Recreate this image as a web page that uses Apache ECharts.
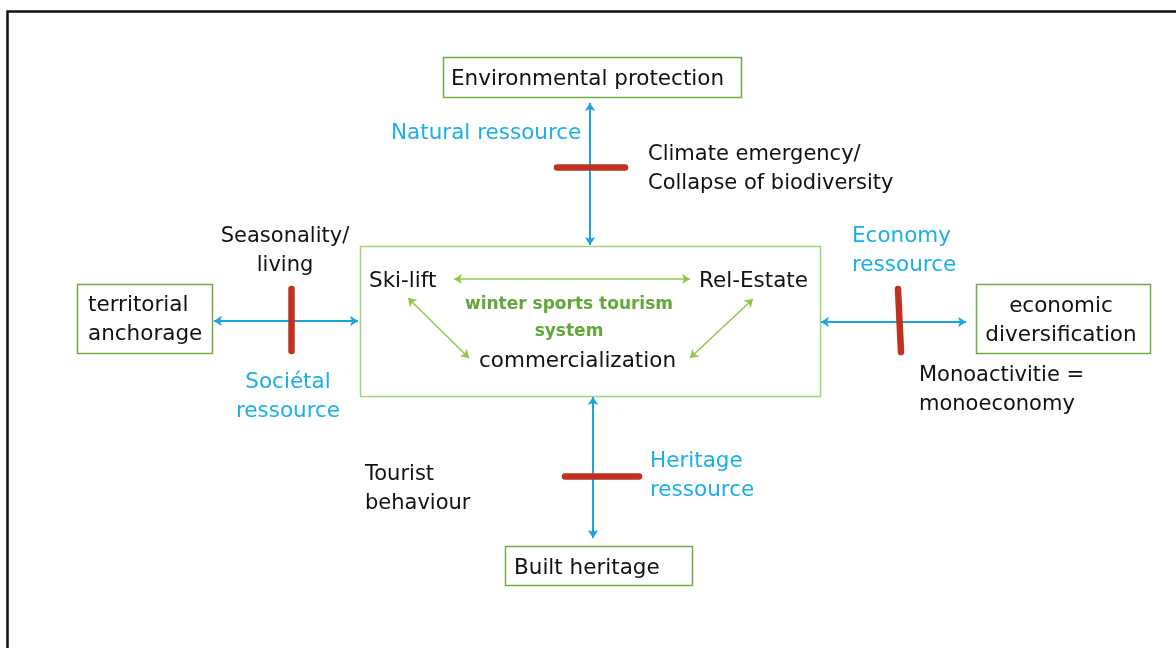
<!DOCTYPE html>
<html>
<head>
<meta charset="utf-8">
<script src="https://cdn.jsdelivr.net/npm/echarts@6/dist/echarts.min.js"></script>
<style>html,body{margin:0;padding:0;background:#fff}#c{width:1176px;height:648px}</style>
</head>
<body>
<div id="c"></div>
<script>
// ---- content ----
const boxNames = ['Environmental protection', 'winter sports tourism system', 'territorial anchorage', 'economic diversification', 'Built heritage'];
const nodeTexts = ['Environmental protection', 'territorial\nanchorage', 'economic\ndiversification', 'Built heritage', 'Ski-lift', 'Rel-Estate', 'commercialization'];
const systemText = ['winter sports tourism\nsystem'];
const tensionTexts = ['Climate emergency/\nCollapse of biodiversity', 'Seasonality/\nliving', 'Monoactivitie =\nmonoeconomy', 'Tourist\nbehaviour'];
const resourceTexts = ['Natural ressource', 'Sociétal\nressource', 'Economy\nressource', 'Heritage\nressource'];
const resourceLinks = ['Environmental protection', 'territorial anchorage', 'economic diversification', 'Built heritage'];
const systemLinks = [['Ski-lift', 'Rel-Estate'], ['Ski-lift', 'commercialization'], ['Rel-Estate', 'commercialization']];

// ---- layout (diagram placement, in canvas units) ----
const boxLayout = [[443, 57, 741, 97], [360, 246, 820, 396], [77, 284, 212, 353], [976, 284, 1150, 353], [505, 546, 692, 585]];
const boxBorder = ['#70AD47', '#A3D47A', '#70AD47', '#70AD47', '#70AD47'];
const nodeTextLayout = [[451, 77, 'left'], [88, 318, 'left'], [1061, 318.5, 'center'], [514, 566, 'left'], [369, 279, 'left'], [699, 279, 'left'], [479, 359, 'left']];
const systemTextLayout = [[569, 316.5, 'center']];
const tensionTextLayout = [[648, 167, 'left'], [285, 249, 'center'], [919, 388, 'left'], [365, 487.5, 'left']];
const resourceTextLayout = [[391, 131, 'left'], [288, 394.5, 'center'], [852, 248.5, 'left'], [650, 473.5, 'left']];
const resourceArrowLayout = [[[590, 103], [590, 245]], [[214, 321], [358, 321]], [[821, 322], [966, 322]], [[593, 397], [593, 538]]];
const barLayout = [[[557, 167], [625, 167]], [[291, 289], [291, 351]], [[898, 289], [901, 352]], [[565, 476], [639, 476]]];
const systemArrowLayout = [[[454, 279], [690, 279]], [[408, 298], [469, 358]], [[753, 299], [690, 358]]];

const FONT = '"DejaVu Sans", sans-serif';
const BLUE = '#1AAFE8';
const ARROW_BLUE = '#1BA3E0';
const RED = '#C0321F';
const GREEN_ARROW = '#92C84A';
const GREEN_TEXT = '#62A838';

function textSeries(name, texts, layout, color, size, lineHeight, weight) {
  return {
    type: 'custom', name: name, coordinateSystem: 'cartesian2d', silent: true, z: 10,
    data: texts.map((t, i) => ({ value: [layout[i][0], layout[i][1]], text: t, align: layout[i][2] })),
    renderItem: function (params, api) {
      const d = texts[params.dataIndex];
      const L = layout[params.dataIndex];
      const p = api.coord([api.value(0), api.value(1)]);
      return {
        type: 'text',
        style: {
          text: d, x: p[0], y: p[1] + 2, align: L[2], verticalAlign: 'middle',
          fill: color, fontSize: size, fontFamily: FONT, lineHeight: lineHeight, fontWeight: weight || 'normal'
        }
      };
    }
  };
}

const chart = echarts.init(document.getElementById('c'), null, { renderer: 'canvas' });
chart.setOption({
  animation: false,
  backgroundColor: '#ffffff',
  grid: { left: 0, right: 0, top: 0, bottom: 0 },
  xAxis: { type: 'value', min: 0, max: 1176, show: false },
  yAxis: { type: 'value', min: 0, max: 648, inverse: true, show: false },
  graphic: [{
    type: 'rect', shape: { x: 7.5, y: 11.5, width: 1200, height: 700 },
    style: { fill: 'none', stroke: '#111', lineWidth: 2.5 }, z: 0
  }],
  series: [
    {
      type: 'custom', name: 'boxes', coordinateSystem: 'cartesian2d', silent: true, z: 2,
      data: boxNames.map((n, i) => ({ name: n, value: boxLayout[i] })),
      renderItem: function (params, api) {
        const a = api.coord([api.value(0), api.value(1)]);
        const b = api.coord([api.value(2), api.value(3)]);
        return {
          type: 'rect',
          shape: { x: a[0] + 0.5, y: a[1] + 0.5, width: b[0] - a[0], height: b[1] - a[1] },
          style: { fill: '#fff', stroke: boxBorder[params.dataIndex], lineWidth: 1.5 }
        };
      }
    },
    {
      type: 'lines', name: 'resource flows', coordinateSystem: 'cartesian2d', silent: true, z: 4,
      symbol: ['arrow', 'arrow'], symbolSize: 8,
      lineStyle: { color: ARROW_BLUE, width: 2, opacity: 1 },
      data: resourceLinks.map((n, i) => ({ name: n, coords: resourceArrowLayout[i] }))
    },
    {
      type: 'lines', name: 'system links', coordinateSystem: 'cartesian2d', silent: true, z: 4,
      symbol: ['arrow', 'arrow'], symbolSize: 8,
      lineStyle: { color: GREEN_ARROW, width: 1.5, opacity: 1 },
      data: systemLinks.map((n, i) => ({ name: n.join('-'), coords: systemArrowLayout[i] }))
    },
    {
      type: 'lines', name: 'tensions', coordinateSystem: 'cartesian2d', silent: true, z: 5,
      symbol: ['none', 'none'],
      lineStyle: { color: RED, width: 6.5, opacity: 1, cap: 'round' },
      data: tensionTexts.map((n, i) => ({ name: n, coords: barLayout[i] }))
    },
    textSeries('node texts', nodeTexts, nodeTextLayout, '#111111', 21.5, 29),
    textSeries('system', systemText, systemTextLayout, GREEN_TEXT, 17, 27, 'bold'),
    textSeries('tension texts', tensionTexts, tensionTextLayout, '#111111', 21, 29),
    textSeries('resources', resourceTexts, resourceTextLayout, BLUE, 21.5, 29)
  ]
});
</script>
</body>
</html>
